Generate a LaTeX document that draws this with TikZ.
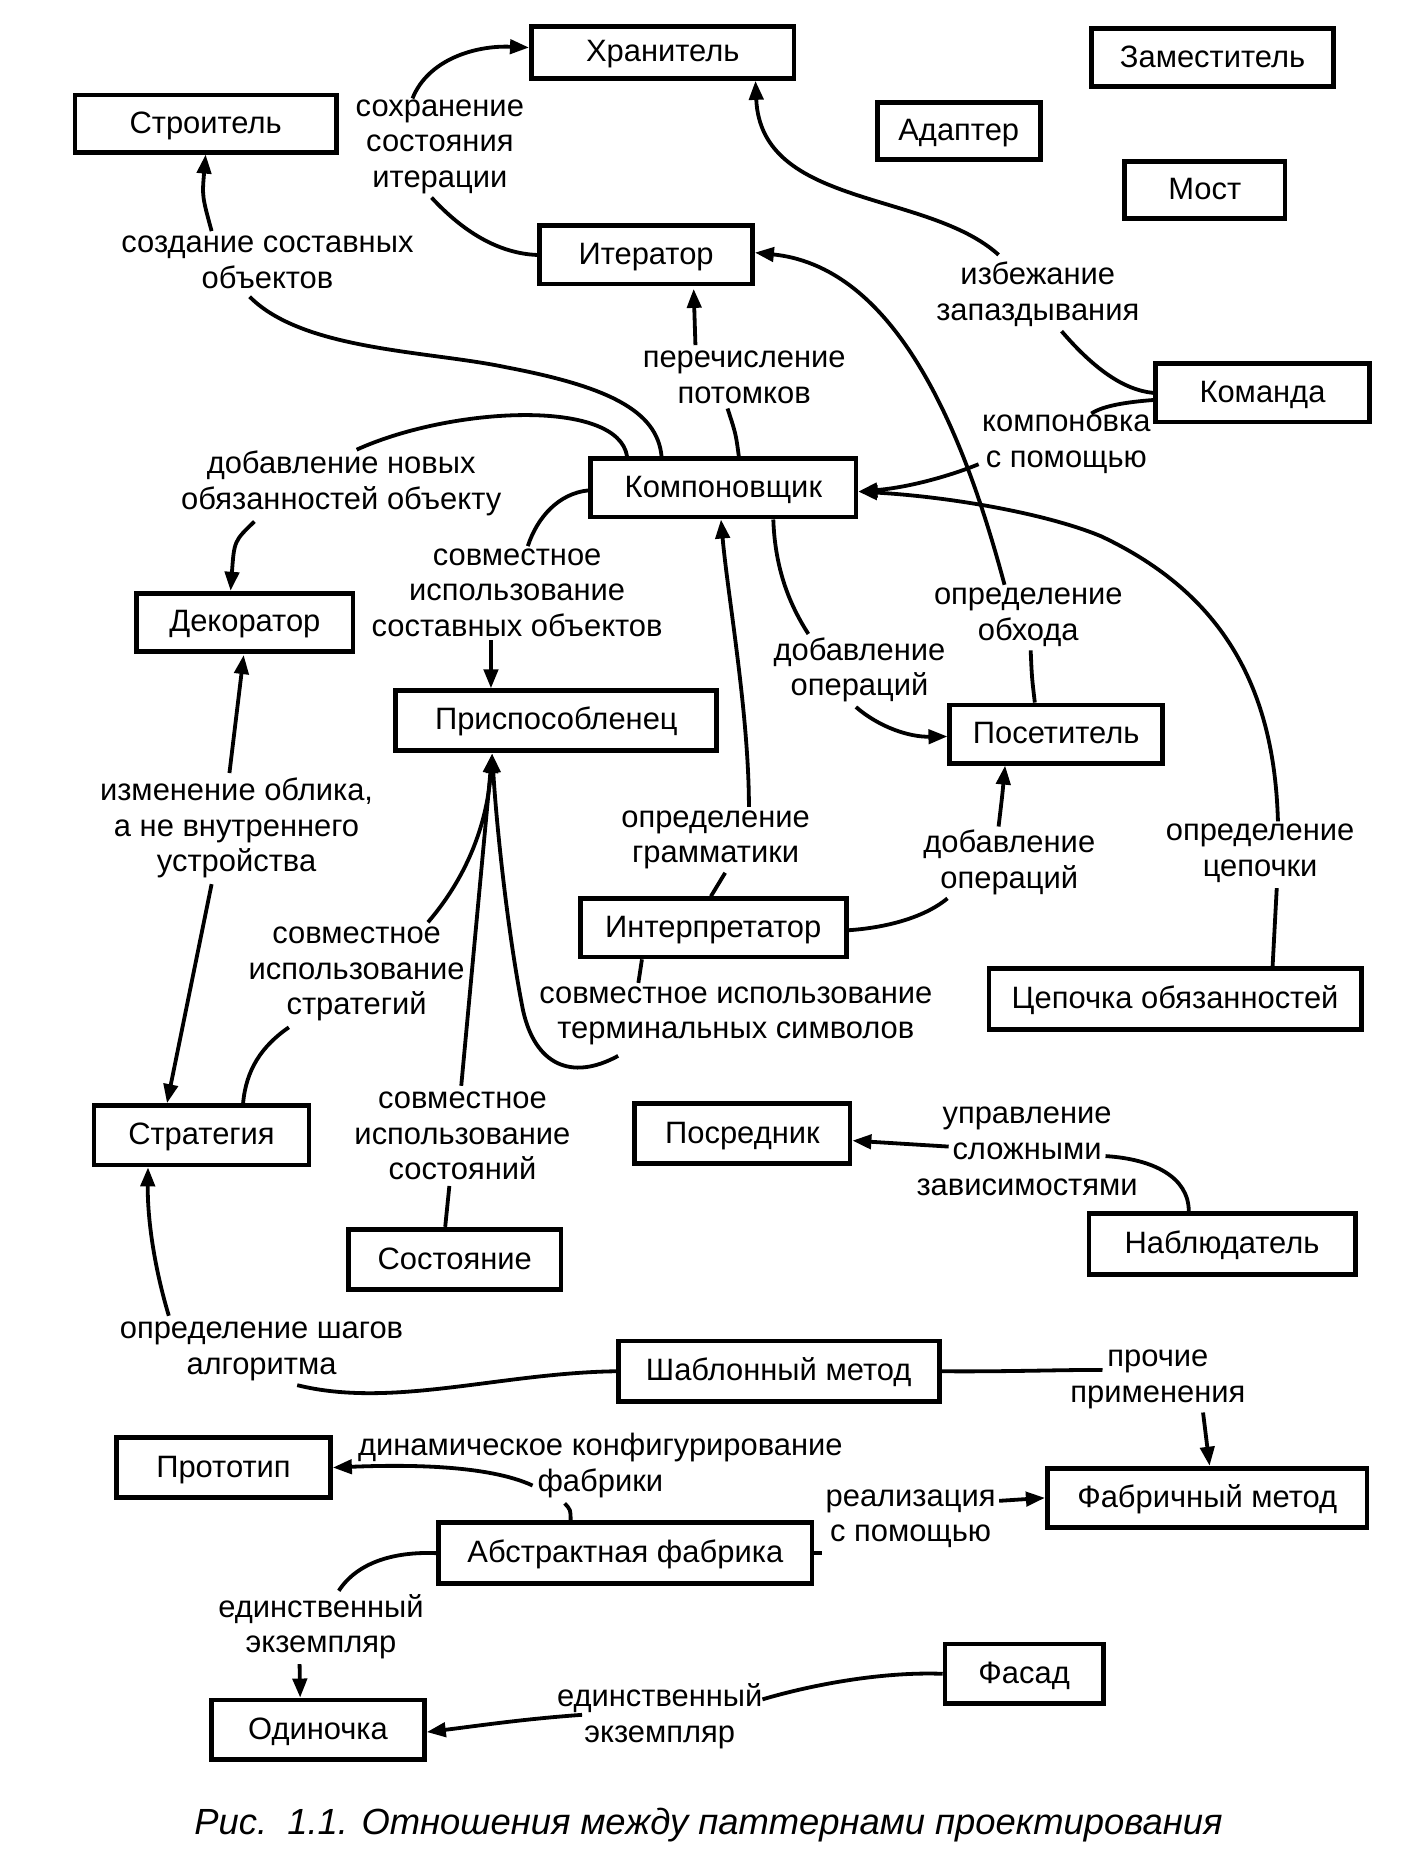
\documentclass[tikz,border=0pt]{standalone}
\usepackage{fontspec}
\setmainfont{Liberation Sans}
\usetikzlibrary{arrows.meta}
\begin{document}
\begin{tikzpicture}[x=0.5pt,y=-0.5pt,
  box/.style 2 args={draw,line width=2pt,inner sep=0pt,minimum width=#1*0.5pt,minimum height=#2*0.5pt,text height=10pt,text depth=2pt,font=\fontsize{13}{15}\selectfont},
  lab/.style={inner sep=0pt,outer sep=1.5pt,align=center,yshift=-1.25pt,font=\fontsize{13}{15}\selectfont},
  con/.style={line width=1.6pt},
  arr/.style={con,-{Triangle[length=8pt,width=6pt]}},
  rarr/.style={con,{Triangle[length=8pt,width=6pt]}-},
]
\fill[white] (0,0) rectangle (1191,1568);
\useasboundingbox (0,0) rectangle (1191,1568);

% boxes
\node[box={221}{44}] (hran) at (557.5,44) {Хранитель};
\node[box={204}{49}] (zam) at (1020,48.5) {Заместитель};
\node[box={220}{48}] (stroi) at (173,104) {Строитель};
\node[box={137}{48}] (adap) at (806.5,110) {Адаптер};
\node[box={135}{48}] (most) at (1013.5,160) {Мост};
\node[box={179}{49}] (iter) at (543.5,214.5) {Итератор};
\node[box={180}{49}] (koman) at (1062,330.5) {Команда};
\node[box={223}{49}] (komp) at (608.5,410.5) {Компоновщик};
\node[box={182}{49}] (dekor) at (206,523.5) {Декоратор};
\node[box={270}{50}] (prisp) at (468,606) {Приспособленец};
\node[box={179}{49}] (posetit) at (888.5,617.5) {Посетитель};
\node[box={224}{49}] (interp) at (600,780.5) {Интерпретатор};
\node[box={313}{51}] (cep) at (988.5,840.5) {Цепочка обязанностей};
\node[box={181}{50}] (strat) at (169.5,955) {Стратегия};
\node[box={181}{51}] (posred) at (624.5,953.5) {Посредник};
\node[box={224}{51}] (nabl) at (1028,1046.5) {Наблюдатель};
\node[box={179}{51}] (sost) at (382.5,1059.5) {Состояние};
\node[box={270}{51}] (shabl) at (655,1153.5) {Шаблонный метод};
\node[box={180}{51}] (proto) at (188,1234.5) {Прототип};
\node[box={269}{50}] (fabr) at (1015.5,1260) {Фабричный метод};
\node[box={314}{51}] (abstr) at (526,1306.5) {Абстрактная фабрика};
\node[box={133}{50}] (fasad) at (861.5,1408) {Фасад};
\node[box={179}{50}] (odin) at (267.5,1455) {Одиночка};

% labels
\node[lab] (L1) at (370,121) {сохранение\\состояния\\итерации};
\node[lab] (L2) at (225,218) {создание составных\\объектов};
\node[lab] (L3) at (873,245) {избежание\\запаздывания};
\node[lab] (L4) at (626,315) {перечисление\\потомков};
\node[lab] (L5) at (897,371) {компоновка\\с помощью};
\node[lab] (L6) at (287,404) {добавление новых\\обязанностей объекту};
\node[lab] (L7) at (435,496) {совместное\\использование\\составных объектов};
\node[lab] (L8) at (865,517) {определение\\обхода};
\node[lab] (L9) at (723,561) {добавление\\операций};
\node[lab] (L10) at (199,694) {изменение облика,\\а не внутреннего\\устройства};
\node[lab] (L11) at (602,704) {определение\\грамматики};
\node[lab] (L12) at (849,723) {добавление\\операций};
\node[lab] (L13) at (1060,715) {определение\\цепочки};
\node[lab] (L14) at (300,817) {совместное\\использование\\стратегий};
\node[lab] (L15) at (619,852) {совместное использование\\терминальных символов};
\node[lab] (L16) at (389,953) {совместное\\использование\\состояний};
\node[lab] (L17) at (864,966) {управление\\сложными\\зависимостями};
\node[lab] (L18) at (220,1134) {определение шагов\\алгоритма};
\node[lab] (L19) at (974,1158) {прочие\\применения};
\node[lab] (L20) at (505,1230) {динамическое конфигурирование\\фабрики};
\node[lab] (L21) at (766,1275) {реализация\\с помощью};
\node[lab] (L22) at (270,1366) {единственный\\экземпляр};
\node[lab] (L23) at (555,1441) {единственный\\экземпляр};

\node[inner sep=0pt,font=\fontsize{15.3}{18}\selectfont\itshape] (cap) at (596,1535) {Рис.\ \ 1.1. Отношения между паттернами проектирования};

% connectors
% Iterator -> Memento
\draw[con] (iter.west) .. controls (415,213) and (385,190) .. ([shift={(-7,0)}]L1.south);
\draw[arr] ([shift={(-23,2)}]L1.north) .. controls (360,50) and (400,38) .. ([shift={(0,-4)}]hran.west);
% Composite -> Builder
\draw[con] ([shift={(-52,0)}]komp.north) .. controls (553,345) and (510,325) .. (426,309) .. controls (360,295) and (255,295) .. ([shift={(-15,4)}]L2.south);
\draw[arr] ([shift={(-47,-1)}]L2.north) .. controls (170,165) .. (stroi.south);
% Composite -> Iterator
\draw[con] ([shift={(13,0)}]komp.north) .. controls (619,365) .. ([shift={(-14,1)}]L4.south);
\draw[arr] ([shift={(-41,-2)}]L4.north) -- ([shift={(40,2)}]iter.south);
% Command -> Memento
\draw[con] (koman.west) .. controls (945,328) and (920,310) .. ([shift={(20,1)}]L3.south);
\draw[arr] ([shift={(-33,-3)}]L3.north) .. controls (780,160) and (640,175) .. ([shift={(78,0)}]hran.south);
% Command -> Composite
\draw[con] ([shift={(0,6)}]koman.west) .. controls (950,338) and (928,341) .. ([shift={(21,2)}]L5.north);
\draw[arr] ([shift={(0,17)}]L5.west) .. controls (800,400) and (765,410) .. ([shift={(0,3)}]komp.east);
% Visitor -> Iterator
\draw[con] ([shift={(-18,0)}]posetit.north) .. controls (868,570) .. ([shift={(2,0)}]L8.south);
\draw[arr] ([shift={(-20,0)}]L8.north) .. controls (815,380) and (760,225) .. ([shift={(0,-2)}]iter.east);
% Composite -> Decorator
\draw[con] ([shift={(-81,0)}]komp.north) .. controls (520,335) and (380,342) .. ([shift={(13,2)}]L6.north);
\draw[arr] ([shift={(-73,2)}]L6.south) .. controls (197,455) .. ([shift={(-12,0)}]dekor.north);
% Composite -> Flyweight
\draw[con] ([shift={(0,2)}]komp.west) .. controls (470,415) and (452,435) .. ([shift={(9,1)}]L7.north);
\draw[arr] ([shift={(-22,0)}]L7.south) -- ([shift={(-55,0)}]prisp.north);
% Composite -> Visitor
\draw[con] ([shift={(42,0)}]komp.south) .. controls (652,480) and (665,510) .. ([shift={(-43,0)}]L9.north);
\draw[arr] ([shift={(-3,1)}]L9.south) .. controls (740,612) and (765,620) .. ([shift={(0,2)}]posetit.west);
% Interpreter -> Composite
\draw[con] ([shift={(-2,0)}]interp.north) -- ([shift={(8,0)}]L11.south);
\draw[arr] ([shift={(28,0)}]L11.north) .. controls (630,600) and (612,500) .. ([shift={(-2,0)}]komp.south);
% Interpreter -> Visitor
\draw[con] ([shift={(0,2)}]interp.east) .. controls (750,780) and (780,770) .. ([shift={(-52,0)}]L12.south);
\draw[arr] ([shift={(-9,0)}]L12.north) .. controls (843,670) .. ([shift={(-43,0)}]posetit.south);
% Chain -> Composite
\draw[con] ([shift={(82,0)}]cep.north) -- ([shift={(14,2)}]L13.south);
\draw[arr] ([shift={(15,1)}]L13.north) .. controls (1072,580) and (1030,500) .. (926,451) .. controls (880,432) and (800,418) .. ([shift={(0,3)}]komp.east);
% Interpreter -> Flyweight
\draw[con] ([shift={(-60,0)}]interp.south) -- ([shift={(-82,0)}]L15.north);
\draw[arr] ([shift={(-99,6)}]L15.south) .. controls (480,910) and (450,895) .. (440,850) .. controls (428,790) and (418,700) .. ([shift={(-54,1)}]prisp.south);
% Strategy -> Flyweight
\draw[con] ([shift={(35,0)}]strat.north) .. controls (207,900) and (220,880) .. ([shift={(-57,2)}]L14.south);
\draw[arr] ([shift={(60,-1)}]L14.north) .. controls (395,735) and (410,690) .. ([shift={(-54,1)}]prisp.south);
% State -> Flyweight
\draw[con] ([shift={(-8,0)}]sost.north) -- ([shift={(-11,2)}]L16.south);
\draw[arr] ([shift={(-1,-2)}]L16.north) -- ([shift={(-54,1)}]prisp.south);
% Decorator <-> Strategy
\draw[rarr] ([shift={(-1,1)}]dekor.south) -- ([shift={(-6,-1)}]L10.north);
\draw[arr] ([shift={(-21,2)}]L10.south) -- ([shift={(-29,0)}]strat.north);
% Observer -> Mediator
\draw[con] ([shift={(-28,0)}]nabl.north) .. controls (1000,990) and (970,975) .. ([shift={(-30,4)}]L17.east);
\draw[arr] ([shift={(30,-4)}]L17.west) -- ([shift={(0,6)}]posred.east);
% Template Method -> Strategy
\draw[con] (shabl.west) .. controls (420,1155) and (330,1185) .. ([shift={(30,1)}]L18.south);
\draw[arr] ([shift={(-78,-2)}]L18.north) .. controls (128,1060) and (124,1020) .. ([shift={(-45,0)}]strat.south);
% Template Method -> Factory Method
\draw[con] (shabl.east) .. controls (850,1154) and (900,1152) .. ([shift={(30,-8)}]L19.west);
\draw[arr] ([shift={(38,0)}]L19.south) -- ([shift={(2,0)}]fabr.north);
% Abstract Factory -> Prototype
\draw[con] ([shift={(-46,0)}]abstr.north) .. controls (480,1270) .. ([shift={(-30,2)}]L20.south);
\draw[arr] ([shift={(-57,-13)}]L20.south) .. controls (410,1232) and (340,1232) .. (proto.east);
% Abstract Factory -> Factory Method
\draw[con] (abstr.east) -- (abstr.east -| L21.west);
\draw[arr] ([shift={(0,-15)}]L21.east) -- (fabr.west);
% Abstract Factory -> Singleton
\draw[con] (abstr.west) .. controls (330,1305) and (300,1315) .. ([shift={(15,0)}]L22.north);
\draw[arr] ([shift={(-18,1)}]L22.south) -- ([shift={(-15,0)}]odin.north);
% Facade -> Singleton
\draw[con] (fasad.west) .. controls (740,1406) and (680,1418) .. ([shift={(-3,-14)}]L23.east);
\draw[arr] ([shift={(24,-1)}]L23.west) .. controls (440,1446) and (400,1452) .. ([shift={(0,2)}]odin.east);
\end{tikzpicture}
\end{document}
